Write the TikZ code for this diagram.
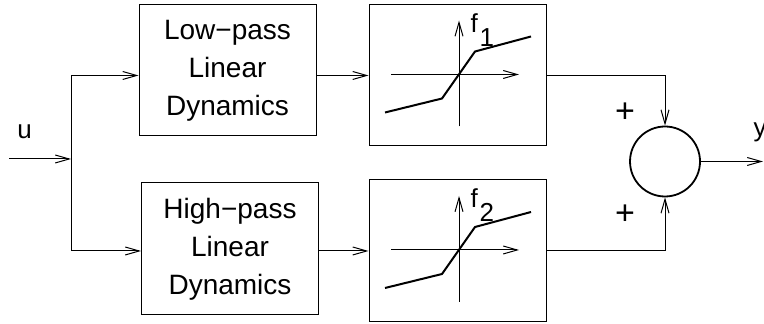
\documentclass[tikz,border=0pt]{standalone}
\usepackage{fontspec}
\setmainfont{Liberation Sans}
\usetikzlibrary{arrows.meta}

\begin{document}
\begin{tikzpicture}[x=0.5pt,y=-0.5pt,line width=0.5pt,
  >={Straight Barb[length=7pt,width=4pt]},
  blk/.style={draw,minimum width=88.5pt,minimum height=65.5pt,inner sep=0pt,
    align=center,font=\fontsize{14}{19}\selectfont},
  nlbox/.style={draw,minimum width=88.5pt,minimum height=70.5pt,inner sep=0pt},
  lbl/.style={inner sep=0pt,font=\fontsize{13}{14}\selectfont},
  fn/.style={inner sep=0pt,font=\fontsize{13}{14}\selectfont},
  sgn/.style={inner sep=0pt,font=\fontsize{17}{18}\selectfont}]
\useasboundingbox (0,0) rectangle (764,324);
% blocks
\node[blk] (lp) at (227.5,70.5) {Low−pass\\Linear\\Dynamics};
\node[blk,minimum height=66pt] (hp) at (230,249) {High−pass\\Linear\\Dynamics};
\node[nlbox] (nl1) at (457.5,75.5) {};
\node[nlbox,minimum height=71pt] (nl2) at (457.5,251) {};
\node[draw,circle,line width=0.9pt,minimum size=35pt,inner sep=0pt] (sum) at (665,161.5) {};
\coordinate (in) at (9,159);
\coordinate (split) at (71,159);
\coordinate (out) at (763,161.5);
% static nonlinearities
\foreach \n/\k in {nl1/1,nl2/2}{
  \begin{scope}[shift={(\n.center)}]
    \draw[->] (-66.5,-1) -- (61.5,-1);
    \draw[->] (1.5,51) -- (1.5,-55);
    \draw[line width=1pt] (-72.5,37) -- (-15.5,23) -- (17.5,-24) -- (73.5,-39);
    \node[fn,anchor=base west] at (12.5,-43) {f\hspace{1pt}\raisebox{-6.8pt}{\k}};
  \end{scope}
}
% signals
\draw[->] (in) -- (split);
\draw[->] (split) |- (lp.west |- nl1.west);
\draw[->] (split) |- (hp.west |- nl2.west);
\draw[->] (lp.east |- nl1.west) -- (nl1.west);
\draw[->] (hp.east |- nl2.west) -- (nl2.west);
\draw[->] (nl1.east) -| (sum.north);
\draw[->] (nl2.east) -| (sum.south);
\draw[->] (sum.east) -- (out);
% labels
\node[lbl,anchor=base] (u) at (24.5,139) {u};
\node[lbl,anchor=base] (y) at (760,137) {y};
\node[sgn] (p1) at (625,112.5) {+};
\node[sgn] (p2) at (625,215) {+};
\end{tikzpicture}
\end{document}
